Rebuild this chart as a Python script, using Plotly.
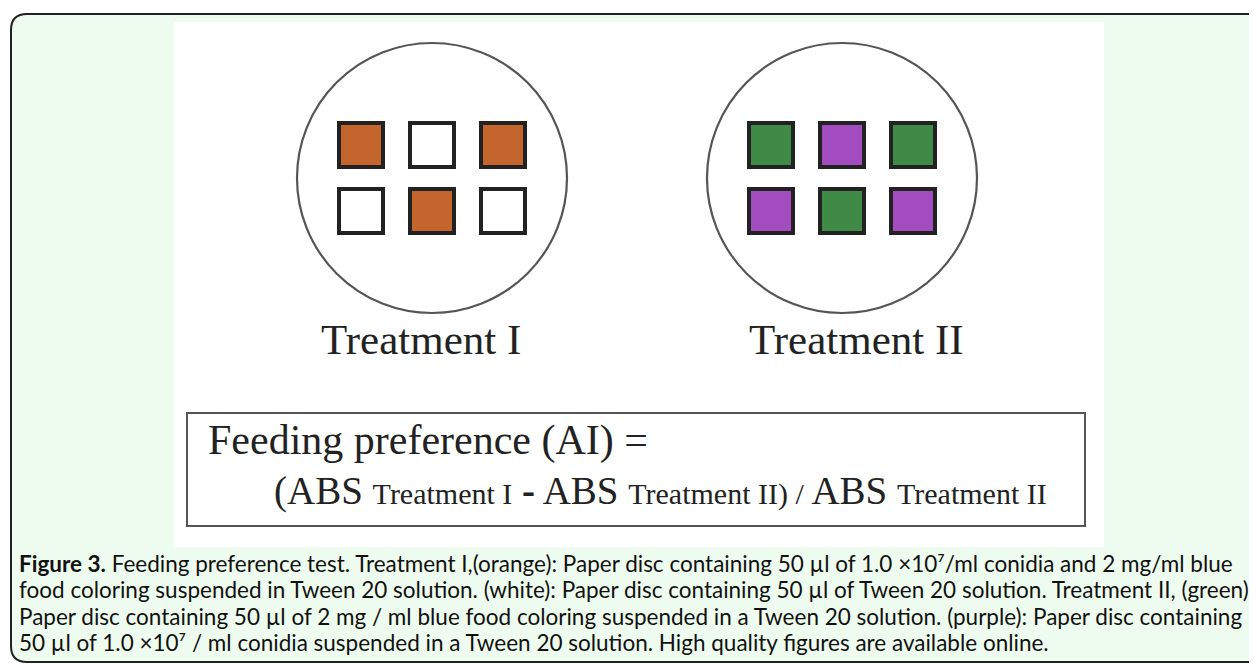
import plotly.graph_objects as go

# ---- data ----
treatments = ["Treatment I", "Treatment II"]
disc_colors_t1 = ["orange", "white", "orange", "white", "orange", "white"]
disc_colors_t2 = ["green", "purple", "green", "purple", "green", "purple"]
palette = {"orange": "#C3652D", "white": "#FFFFFF", "green": "#3F8A47", "purple": "#A24CC0"}
caption_lines = [
    "<b>Figure 3.</b> Feeding preference test. Treatment I,(orange): Paper disc containing 50 µl of 1.0 ×10⁷/ml conidia and 2 mg/ml blue",
    "food coloring suspended in Tween 20 solution. (white): Paper disc containing 50 µl of Tween 20 solution. Treatment II, (green):",
    "Paper disc containing 50 µl of 2 mg / ml blue food coloring suspended in a Tween 20 solution. (purple): Paper disc containing",
    "50 µl of 1.0 ×10⁷ / ml conidia suspended in a Tween 20 solution. High quality figures are available online.",
]

W, H = 1257, 664
OFF = 8  # page body margin of the written html
fig = go.Figure()

# layout geometry
circle_cx = [432, 842]
circle_cy = 178
circle_r = 135
col_dx = 71
row_y = [145, 211]

shapes = []
# outer rounded panel
x0, y0, x1, y1, r = 11, 14, 1285, 662, 16
path = (f"M {x0+r},{y0} L {x1},{y0} L {x1},{y1} L {x0+r},{y1} "
        f"Q {x0},{y1} {x0},{y1-r} L {x0},{y0+r} Q {x0},{y0} {x0+r},{y0} Z")
shapes.append(dict(type="path", path=path, xref="x", yref="y",
                   fillcolor="#EEFCEF", line=dict(color="#222222", width=2), layer="below"))
# white figure area
shapes.append(dict(type="rect", x0=174, y0=22, x1=1104, y1=547, xref="x", yref="y",
                   fillcolor="#FFFFFF", line=dict(width=0), layer="below"))
# petri dishes
for cx in circle_cx:
    shapes.append(dict(type="circle", x0=cx-circle_r, x1=cx+circle_r,
                       y0=circle_cy-circle_r, y1=circle_cy+circle_r, xref="x", yref="y",
                       line=dict(color="#555555", width=2.2), fillcolor="rgba(0,0,0,0)", layer="below"))
# formula box
shapes.append(dict(type="rect", x0=187, y0=413, x1=1085, y1=526, xref="x", yref="y",
                   line=dict(color="#555555", width=2), fillcolor="rgba(0,0,0,0)", layer="below"))

# discs as square markers
for cx, cols in zip(circle_cx, [disc_colors_t1, disc_colors_t2]):
    xs, ys, cs = [], [], []
    for i, c in enumerate(cols):
        row, col = divmod(i, 3)
        xs.append(cx - col_dx + col * col_dx)
        ys.append(row_y[row])
        cs.append(palette[c])
    fig.add_trace(go.Scatter(x=xs, y=ys, mode="markers", hoverinfo="skip",
                             marker=dict(symbol="square", size=44, color=cs,
                                         line=dict(color="#222222", width=4))))

annotations = []
serif = "Liberation Serif"
for cx, label in zip(circle_cx, treatments):
    annotations.append(dict(x=cx - 11 if label == "Treatment I" else cx + 14, y=339, text=label,
                            showarrow=False, xanchor="center", yanchor="middle",
                            font=dict(family=serif, size=43, color="#222222")))
annotations.append(dict(x=206, y=440, text="Feeding preference (AI) =", showarrow=False,
                        xanchor="left", yanchor="middle",
                        font=dict(family=serif, size=42, color="#222222")))
sm = "<span style='font-size:30px'>"
formula = (f"(ABS {sm}Treatment I</span> <b>-</b> ABS {sm}Treatment II) /</span> ABS "
           f"{sm}Treatment II</span>")
annotations.append(dict(x=272, y=491, text=formula, showarrow=False,
                        xanchor="left", yanchor="middle",
                        font=dict(family=serif, size=39, color="#222222")))
cap_y = [563, 589.5, 616, 642.5]
for yy, line in zip(cap_y, caption_lines):
    annotations.append(dict(x=18, y=yy, text=line, showarrow=False, xanchor="left",
                            yanchor="middle", borderpad=0,
                            font=dict(family="Lato", size=22.5, color="#111111")))

fig.update_layout(
    width=W, height=H, margin=dict(l=0, r=0, t=0, b=0),
    paper_bgcolor="#FFFFFF", plot_bgcolor="rgba(0,0,0,0)",
    showlegend=False, shapes=shapes, annotations=annotations,
    xaxis=dict(range=[OFF, W + OFF], visible=False, fixedrange=True),
    yaxis=dict(range=[H + OFF, OFF], visible=False, fixedrange=True),
)
fig.write_html("out.html", config={"displayModeBar": False})
